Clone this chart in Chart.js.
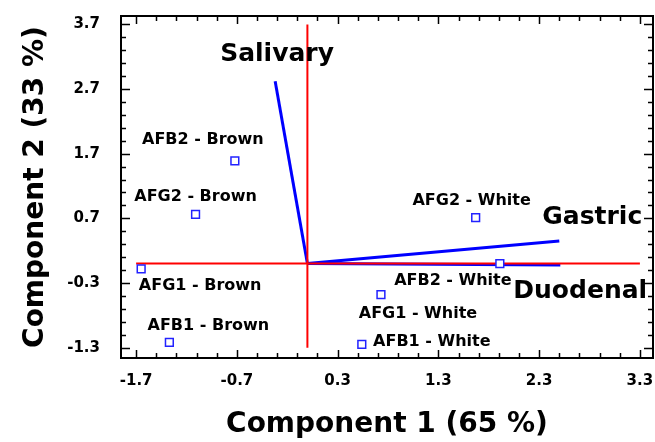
<!DOCTYPE html>
<html>
<head>
<meta charset="utf-8">
<script src="https://cdn.jsdelivr.net/npm/chart.js@4.4.0/dist/chart.umd.min.js"></script>
<style>
    html, body { margin: 0; padding: 0; background: #fff; overflow: hidden; }
    #wrap { width: 655px; height: 442px; overflow: hidden; }
</style>
</head>
<body>
<div id="wrap"><canvas id="pcaChart" width="660" height="442"></canvas></div>
<script>
// scores of the samples
const sampleNames = ['AFB2 - Brown', 'AFG2 - Brown', 'AFG1 - Brown', 'AFB1 - Brown',
    'AFG2 - White', 'AFB2 - White', 'AFG1 - White', 'AFB1 - White'];
const comp1 = [-0.72, -1.11, -1.65, -1.37, 1.67, 1.91, 0.73, 0.54];
const comp2 = [1.59, 0.76, -0.08, -1.22, 0.71, 0.00, -0.48, -1.25];

// loadings (vectors from the origin)
const loadingNames = ['Salivary', 'Gastric', 'Duodenal'];
const load1 = [-0.32, 2.50, 2.51];
const load2 = [2.82, 0.35, -0.02];

const xTickValues = [-1.7, -0.7, 0.3, 1.3, 2.3, 3.3];
const yTickValues = [-1.3, -0.3, 0.7, 1.7, 2.7, 3.7];

// text placement, pixels from the mark
const sampleLabelOffsets = [[-32, -21], [0, -18], [59, 17], [39, -17],
    [-4, -17], [-47, 17], [37, 19], [70, -3]];
const loadingLabelOffsets = [[-55, -27], [-17, -23], [-47, 27]];

const FONT = '"DejaVu Sans", Verdana, sans-serif';

const points = comp1.map((x, i) => ({ x: x, y: comp2[i] }));

const vectorSets = loadingNames.map((name, i) => ({
    label: name,
    data: [{ x: 0, y: 0 }, { x: load1[i], y: load2[i] }],
    showLine: true,
    borderColor: '#0000ff',
    borderWidth: 3,
    pointRadius: 0,
    order: 3
}));

const labelPlugin = {
    id: 'labels',
    afterDatasetsDraw(chart) {
        const ctx = chart.ctx;
        ctx.save();
        ctx.fillStyle = '#000';
        ctx.textBaseline = 'middle';
        ctx.textAlign = 'center';
        ctx.font = 'bold 16px ' + FONT;
        const meta = chart.getDatasetMeta(0);
        meta.data.forEach((pt, i) => {
            const off = sampleLabelOffsets[i];
            ctx.fillText(sampleNames[i], pt.x + off[0], pt.y + off[1]);
        });
        ctx.textAlign = 'left';
        ctx.font = 'bold 25px ' + FONT;
        loadingNames.forEach((name, i) => {
            const end = chart.getDatasetMeta(i + 3).data[1];
            const off = loadingLabelOffsets[i];
            ctx.fillText(name, end.x + off[0], end.y + off[1]);
        });
        ctx.restore();
    },
    afterDraw(chart) {
        const ctx = chart.ctx;
        const a = chart.chartArea;
        const xs = chart.scales.x;
        const ys = chart.scales.y;
        ctx.save();
        ctx.strokeStyle = '#000';
        ctx.lineWidth = 2;
        ctx.strokeRect(a.left, a.top, a.right - a.left, a.bottom - a.top);
        ctx.lineWidth = 1.5;
        ctx.beginPath();
        for (let k = 0; k <= 25; k++) {
            const v = xTickValues[0] + k * 0.2;
            const len = k % 5 === 0 ? 8 : 5;
            const px = Math.round(xs.getPixelForValue(v)) + 0.5;
            ctx.moveTo(px, a.bottom); ctx.lineTo(px, a.bottom - len);
            ctx.moveTo(px, a.top); ctx.lineTo(px, a.top + len);
        }
        for (let k = 0; k <= 25; k++) {
            const v = yTickValues[0] + k * 0.2;
            const len = k % 5 === 0 ? 9 : 5;
            const py = Math.round(ys.getPixelForValue(v)) + 0.5;
            ctx.moveTo(a.left, py); ctx.lineTo(a.left + len, py);
            ctx.moveTo(a.right, py); ctx.lineTo(a.right - len, py);
        }
        ctx.stroke();
        ctx.restore();
    }
};

const ctx = document.getElementById('pcaChart').getContext('2d');
new Chart(ctx, {
    type: 'scatter',
    data: {
        datasets: [
            {
                label: 'Samples',
                data: points,
                pointStyle: 'rect',
                pointRadius: 5.5,
                pointBorderWidth: 1.5,
                pointBorderColor: '#2222ff',
                pointBackgroundColor: '#ffffff',
                order: 0
            },
            {
                label: 'axis x',
                data: [{ x: xTickValues[0], y: 0 }, { x: xTickValues[5], y: 0 }],
                showLine: true,
                borderColor: '#ff0000',
                borderWidth: 2,
                pointRadius: 0,
                order: 1
            },
            {
                label: 'axis y',
                data: [{ x: 0, y: yTickValues[0] }, { x: 0, y: yTickValues[5] }],
                showLine: true,
                borderColor: '#ff0000',
                borderWidth: 2,
                pointRadius: 0,
                order: 1
            },
            ...vectorSets
        ]
    },
    options: {
        responsive: false,
        animation: false,
        layout: { padding: { top: 16, right: 2, left: 0, bottom: 0 } },
        plugins: {
            legend: { display: false },
            tooltip: { enabled: false }
        },
        scales: {
            x: {
                type: 'linear',
                min: -1.85,
                max: 3.43,
                grid: { display: false, drawTicks: false },
                border: { display: false },
                afterBuildTicks: s => { s.ticks = xTickValues.map(v => ({ value: v })); },
                afterFit: s => {
                    s.height = 84;
                    s.paddingLeft = 0;
                    s.paddingRight = 0;
                },
                ticks: {
                    padding: 14,
                    color: '#000',
                    maxRotation: 0,
                    autoSkip: false,
                    font: { family: FONT, size: 15, weight: 'bold' },
                    callback: v => v.toFixed(1)
                },
                title: {
                    display: true,
                    text: 'Component 1 (65 %)',
                    color: '#000',
                    padding: 0,
                    font: { family: FONT, size: 28, weight: 'bold' }
                }
            },
            y: {
                type: 'linear',
                min: -1.46,
                max: 3.83,
                grid: { display: false, drawTicks: false },
                border: { display: false },
                afterBuildTicks: s => { s.ticks = yTickValues.map(v => ({ value: v })); },
                afterFit: s => {
                    s.width = 121;
                    s.paddingTop = 0;
                    s.paddingBottom = 0;
                },
                ticks: {
                    padding: 21,
                    color: '#000',
                    autoSkip: false,
                    font: { family: FONT, size: 15, weight: 'bold' },
                    callback: v => v.toFixed(1)
                },
                title: {
                    display: true,
                    text: 'Component 2 (33 %)',
                    color: '#000',
                    padding: { top: 19, bottom: 0 },
                    font: { family: FONT, size: 28, weight: 'bold' }
                }
            }
        }
    },
    plugins: [labelPlugin]
});
</script>
</body>
</html>
